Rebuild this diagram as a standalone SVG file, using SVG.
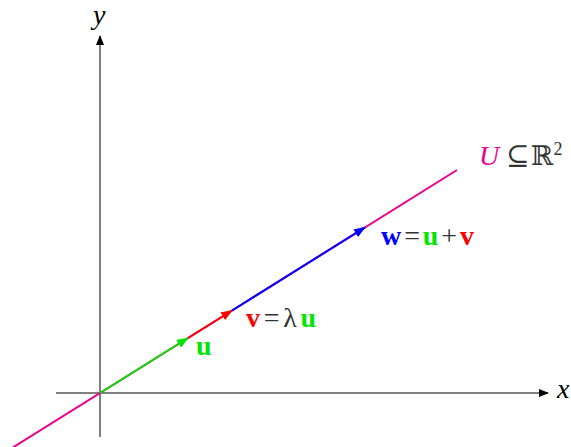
<svg xmlns="http://www.w3.org/2000/svg" width="571" height="447" viewBox="0 0 571 447">
<style>
.ax{stroke:#000;stroke-width:1;fill:none}
.vec{stroke-width:2;fill:none}
.t{font-family:"Liberation Serif","DejaVu Serif",serif;font-size:28px}
.b{font-weight:bold}
.i{font-style:italic}
</style>
<defs>
<marker id="ak" markerWidth="10" markerHeight="8" refX="9" refY="4" orient="auto" markerUnits="userSpaceOnUse"><path d="M0,0 L10,4 L0,8 Z" fill="#000"/></marker>
<marker id="ag" markerWidth="12" markerHeight="9" refX="11" refY="4.5" orient="auto" markerUnits="userSpaceOnUse"><path d="M0,0 L12,4.5 L0,9 Z" fill="#00e600"/></marker>
<marker id="ar" markerWidth="12" markerHeight="9" refX="11" refY="4.5" orient="auto" markerUnits="userSpaceOnUse"><path d="M0,0 L12,4.5 L0,9 Z" fill="#ff0000"/></marker>
<marker id="ab" markerWidth="12" markerHeight="9" refX="11" refY="4.5" orient="auto" markerUnits="userSpaceOnUse"><path d="M0,0 L12,4.5 L0,9 Z" fill="#0000ff"/></marker>
</defs>
<g id="axes">
<line class="ax" x1="56" y1="393" x2="548" y2="393" marker-end="url(#ak)"/>
<line class="ax" x1="100" y1="437" x2="100" y2="36" marker-end="url(#ak)"/>
<text class="t i" x="557" y="398" font-size="24">x</text>
<text class="t i" x="93" y="24" font-size="21">y</text>
</g>
<g id="subspace">
<line x1="-10" y1="461.75" x2="457" y2="170" stroke="#ec008c" stroke-width="2"/>
<text class="t" x="479" y="165" font-size="26"><tspan class="i" fill="#ec008c">U</tspan><tspan x="506" fill="#333">⊆</tspan><tspan x="531" fill="#333" font-family="DejaVu Serif" font-size="27">ℝ</tspan><tspan font-size="18" dy="-10" fill="#333">2</tspan></text>
</g>
<g id="connectors">
<line class="vec" x1="100" y1="393" x2="188" y2="338" stroke="#00e600" marker-end="url(#ag)"/>
<line class="vec" x1="188" y1="338" x2="232" y2="310.5" stroke="#ff0000" marker-end="url(#ar)"/>
<line class="vec" x1="232" y1="310.5" x2="365" y2="227.4" stroke="#0000ff" marker-end="url(#ab)"/>
</g>
<g id="label-u"><text class="t b" x="196" y="355" fill="#00e600">u</text></g>
<g id="label-v"><text class="t" x="246" y="327" textLength="70" lengthAdjust="spacing"><tspan class="b" fill="#ff0000">v</tspan><tspan fill="#333">=λ</tspan><tspan class="b" fill="#00e600">u</tspan></text></g>
<g id="label-w"><text class="t" x="381" y="245" textLength="93" lengthAdjust="spacing"><tspan class="b" fill="#0000ff">w</tspan><tspan fill="#333">=</tspan><tspan class="b" fill="#00e600">u</tspan><tspan fill="#333">+</tspan><tspan class="b" fill="#ff0000">v</tspan></text></g>
</svg>
